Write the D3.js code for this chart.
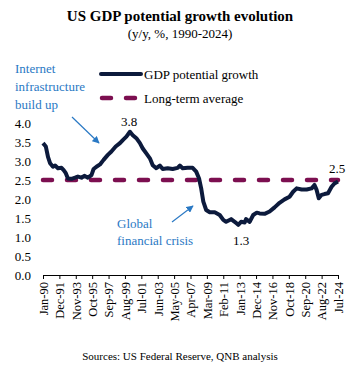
<!DOCTYPE html>
<html>
<head>
<meta charset="utf-8">
<script src="https://cdn.jsdelivr.net/npm/d3@7"></script>
<style>
  body { margin: 0; background: #fff; }
  text { font-family: "Liberation Serif", "Times New Roman", serif; }
</style>
</head>
<body>
<script>
// data (month "YYYY-MM", value y/y %)
var dates = ['1990-01', '1990-05', '1990-08', '1990-11', '1991-03', '1991-06', '1991-10', '1992-03',
    '1992-06', '1992-09', '1992-12', '1993-05', '1993-10', '1994-02', '1994-07', '1994-11',
    '1995-04', '1995-09', '1995-12', '1996-04', '1996-09', '1997-02', '1997-08', '1998-01',
    '1998-07', '1999-01', '1999-05', '1999-10', '2000-03', '2000-07', '2000-12', '2001-05',
    '2001-09', '2002-02', '2002-07', '2002-11', '2003-04', '2003-09', '2004-01', '2004-08',
    '2005-03', '2005-10', '2006-01', '2006-05', '2006-12', '2007-07', '2007-12', '2008-04',
    '2008-07', '2008-10', '2009-02', '2009-07', '2010-02', '2010-09', '2011-02', '2011-06',
    '2012-01', '2012-06', '2012-11', '2013-03', '2013-08', '2013-10', '2014-03', '2014-08',
    '2015-01', '2015-05', '2015-12', '2016-07', '2017-02', '2017-09', '2018-04', '2018-11',
    '2019-04', '2019-09', '2020-04', '2020-11', '2021-06', '2021-10', '2022-01', '2022-04',
    '2022-08', '2022-12', '2023-05', '2023-10', '2024-02', '2024-07']
var values = [3.47, 3.38, 3.11, 2.94, 2.85, 2.88, 2.81, 2.82,
    2.76, 2.68, 2.54, 2.53, 2.56, 2.59, 2.56, 2.61,
    2.56, 2.63, 2.79, 2.85, 2.91, 3.03, 3.16, 3.25,
    3.38, 3.47, 3.55, 3.64, 3.77, 3.68, 3.60, 3.47,
    3.33, 3.20, 3.07, 2.89, 2.81, 2.88, 2.79, 2.81,
    2.79, 2.82, 2.88, 2.81, 2.82, 2.82, 2.72, 2.54,
    2.28, 1.93, 1.71, 1.65, 1.65, 1.58, 1.45, 1.40,
    1.47, 1.40, 1.32, 1.40, 1.38, 1.47, 1.40, 1.58,
    1.64, 1.62, 1.61, 1.67, 1.78, 1.90, 1.99, 2.06,
    2.19, 2.28, 2.25, 2.25, 2.28, 2.37, 2.24, 2.02,
    2.11, 2.13, 2.15, 2.32, 2.41, 2.46]
var longTermAvg = 2.5
var xTickLabels = ['Jan-90', 'Dec-91', 'Nov-93', 'Oct-95', 'Sep-97', 'Aug-99', 'Jul-01', 'Jun-03',
    'May-05', 'Apr-07', 'Mar-09', 'Feb-11', 'Jan-13', 'Dec-14', 'Nov-16', 'Oct-18', 'Sep-20',
    'Aug-22', 'Jul-24']
var yTicks = [0, 0.5, 1, 1.5, 2, 2.5, 3, 3.5, 4]

var W = 360, H = 374
var navy = '#0c1a3c', maroon = '#7c0f50', blue = '#2a79c4'

// month index from Jan-90
function monthIdx(s) {
    var p = s.split('-')
    return (+p[0] - 1990) * 12 + (+p[1] - 1)
}
var data = dates.map((d, i) => ({ m: monthIdx(d), v: values[i] }))

var x = d3.scaleLinear().domain([0, 414]).range([43, 338])
var y = d3.scaleLinear().domain([0, 4]).range([275, 123])

var svg = d3.select('body').append('svg')
    .attr('width', W)
    .attr('height', H)

// title
svg.append('text')
    .attr('x', 180).attr('y', 21)
    .attr('text-anchor', 'middle')
    .attr('font-size', 15).attr('font-weight', 'bold')
    .text('US GDP potential growth evolution')
svg.append('text')
    .attr('x', 180).attr('y', 38)
    .attr('text-anchor', 'middle')
    .attr('font-size', 13)
    .text('(y/y, %, 1990-2024)')

// y labels (no axis line)
svg.append('g').selectAll('text')
    .data(yTicks)
    .enter().append('text')
    .attr('x', 31)
    .attr('y', d => y(d) + 4.5)
    .attr('text-anchor', 'end')
    .attr('font-size', 13)
    .text(d => d.toFixed(1))

// x axis
var xAxis = d3.axisBottom(x)
    .tickValues(xTickLabels.map((d, i) => i * 23))
    .tickFormat((d, i) => xTickLabels[i])
    .tickSize(4)
    .tickSizeOuter(0)
var gx = svg.append('g')
    .attr('transform', 'translate(0,275)')
    .call(xAxis)
gx.select('.domain').attr('stroke', '#000').attr('stroke-width', 1.2)
gx.selectAll('.tick line').attr('stroke', '#000')
gx.selectAll('.tick text')
    .attr('font-size', 12.5)
    .attr('fill', '#000')
    .attr('transform', 'rotate(-90)')
    .attr('text-anchor', 'end')
    .attr('dy', '0.35em')
    .attr('x', -7)
    .attr('y', 0)

// long-term average
svg.append('line')
    .attr('x1', x(0)).attr('x2', x(414))
    .attr('y1', y(longTermAvg)).attr('y2', y(longTermAvg))
    .attr('stroke', maroon).attr('stroke-width', 4.5)
    .attr('stroke-dasharray', '9,15')
    .attr('stroke-linecap', 'round')

// potential growth line
var valueline = d3.line()
    .x(d => x(d.m))
    .y(d => y(d.v))
svg.append('path')
    .datum(data)
    .attr('fill', 'none')
    .attr('stroke', navy)
    .attr('stroke-width', 4)
    .attr('stroke-linejoin', 'round')
    .attr('d', valueline)

// legend
svg.append('line')
    .attr('x1', 101).attr('x2', 141).attr('y1', 74).attr('y2', 74)
    .attr('stroke', navy).attr('stroke-width', 4).attr('stroke-linecap', 'round')
svg.append('text')
    .attr('x', 144).attr('y', 78.5).attr('font-size', 13)
    .text('GDP potential growth')
svg.append('line')
    .attr('x1', 102).attr('x2', 138).attr('y1', 98).attr('y2', 98)
    .attr('stroke', maroon).attr('stroke-width', 4.5)
    .attr('stroke-dasharray', '9,15').attr('stroke-linecap', 'round')
svg.append('text')
    .attr('x', 144).attr('y', 102.5).attr('font-size', 13)
    .text('Long-term average')

// annotations
var ann = svg.append('text').attr('fill', blue).attr('font-size', 13)
;['Internet', 'infrastructure', 'build up'].forEach((t, i) => {
    ann.append('tspan').attr('x', 15).attr('y', 73 + i * 18).text(t)
})
var ann2 = svg.append('text').attr('fill', blue).attr('font-size', 13)
;['Global', 'financial crisis'].forEach((t, i) => {
    ann2.append('tspan').attr('x', 117).attr('y', 228 + i * 17).text(t)
})

svg.append('defs').append('marker')
    .attr('id', 'arr')
    .attr('viewBox', '0 0 10 10')
    .attr('refX', 9).attr('refY', 5)
    .attr('markerWidth', 6).attr('markerHeight', 6)
    .attr('orient', 'auto')
    .append('path').attr('d', 'M0,0L10,5L0,10z').attr('fill', blue)

svg.append('line')
    .attr('x1', 72).attr('y1', 117).attr('x2', 99).attr('y2', 143)
    .attr('stroke', blue).attr('stroke-width', 1.2).attr('marker-end', 'url(#arr)')
svg.append('line')
    .attr('x1', 172).attr('y1', 222).attr('x2', 193).attr('y2', 206)
    .attr('stroke', blue).attr('stroke-width', 1.2).attr('marker-end', 'url(#arr)')

// value labels
var vlabels = [{ t: '3.8', x: 129, y: 126 }, { t: '1.3', x: 241, y: 245 }, { t: '2.5', x: 337, y: 173 }]
svg.append('g').selectAll('text')
    .data(vlabels)
    .enter().append('text')
    .attr('x', d => d.x).attr('y', d => d.y)
    .attr('text-anchor', 'middle')
    .attr('font-size', 13)
    .text(d => d.t)

// source
svg.append('text')
    .attr('x', 180).attr('y', 360)
    .attr('text-anchor', 'middle')
    .attr('font-size', 11)
    .text('Sources: US Federal Reserve, QNB analysis')
</script>
</body>
</html>
